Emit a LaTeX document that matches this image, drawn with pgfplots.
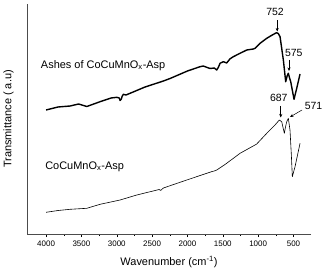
\documentclass[border=0pt]{standalone}
\usepackage{pgfplots}
\pgfplotsset{compat=1.18}
\usepackage{fontspec}
\setmainfont{Liberation Sans}
\usetikzlibrary{arrows.meta}
\begin{document}
\begin{tikzpicture}
\begin{axis}[
  scale only axis, width=284bp, height=230bp,
  x dir=reverse, xmin=252, xmax=4270, ymin=-234, ymax=-4,
  axis x line*=bottom, axis y line*=left,
  ytick=\empty,
  xtick={500,1000,1500,2000,2500,3000,3500,4000},
  minor x tick num=1,
  tick align=outside,
  major tick length=3bp, minor tick length=2bp,
  tick style={black, line width=0.5pt},
  axis line style={black!70, line width=0.6pt},
  /pgf/number format/assume math mode=true,
  /pgf/number format/1000 sep={},
  tick label style={font=\fontsize{8}{9}\selectfont},
  xlabel={Wavenumber (cm\textsuperscript{-1})},
  ylabel={Transmittance ( a.u)},
  label style={font=\fontsize{11}{12}\selectfont},
  ylabel style={at={(axis description cs:-0.065,0.5)}, anchor=center},
  xlabel style={at={(axis description cs:0.5,-0.12)}, anchor=center},
  clip=false,
]
\addplot[black, line width=1.4pt, line join=round] coordinates {
(4000,-110) (3830,-107) (3660,-106) (3540,-104) (3424,-106.5) (3236,-101.7)
(3080,-98) (3000,-97.3) (2965,-98) (2953,-100.5) (2935,-99) (2925,-96.5)
(2907,-94.3) (2870,-95) (2812,-93.3) (2600,-87) (2340,-81) (2246,-78.5)
(2000,-71) (1822,-66.7) (1775,-66) (1720,-67.5) (1680,-68.5) (1620,-68)
(1586,-70) (1560,-67) (1539,-63.3) (1492,-61.7) (1445,-63) (1400,-59)
(1351,-56.7) (1256,-53.3) (1161,-50) (1068,-49) (1044,-48.3) (973,-43.3)
(878,-38.3) (800,-35) (740,-32.7) (715,-33.5) (690,-36.7) (643,-60)
(610,-81.7) (590,-76) (573,-73.3) (555,-78) (539,-81.7) (492,-99.3)
(454,-88.3) (407,-74)
};
\addplot[black, line width=0.6pt, line join=round] coordinates {
(4000,-212.3) (3830,-210.5) (3660,-209.3) (3424,-208.3) (3236,-204.3)
(2953,-200) (2717,-195) (2400,-189.5) (2380,-190.5) (2340,-188) (2010,-180)
(1727,-173.3) (1650,-171.5) (1620,-171) (1586,-170) (1500,-166) (1445,-163.3)
(1256,-153.3) (1044,-145) (1020,-144) (878,-133.3) (832,-130) (761,-125)
(700,-120) (666,-121.7) (640,-130) (629,-133.3) (610,-126) (595,-121.7)
(573,-118.3) (549,-130) (530,-155) (516,-176.7) (478,-166.7) (407,-143.3)
};
\node[anchor=base west, font=\fontsize{11}{12}\selectfont, inner sep=0pt] at (axis cs:4075,-68) {Ashes of CoCuMnO\textsubscript{x}-Asp};
\node[anchor=base west, font=\fontsize{11}{12}\selectfont, inner sep=0pt] at (axis cs:4014,-169.3) {CoCuMnO\textsubscript{x}-Asp};
\node[anchor=base, font=\fontsize{10.5}{12}\selectfont, inner sep=0pt] at (axis cs:761,-15) {752};
\node[anchor=base, font=\fontsize{10.5}{12}\selectfont, inner sep=0pt] at (axis cs:495,-56) {575};
\node[anchor=base, font=\fontsize{10.5}{12}\selectfont, inner sep=0pt] at (axis cs:707,-101.7) {687};
\node[anchor=base, font=\fontsize{10.5}{12}\selectfont, inner sep=0pt] at (axis cs:216,-109) {571};
\draw[-{Stealth[length=3.5bp,width=3bp]}, line width=0.5pt] (axis cs:730,-20.5) -- (axis cs:730,-31.5);
\draw[-{Stealth[length=3.5bp,width=3bp]}, line width=0.5pt] (axis cs:563,-60) -- (axis cs:563,-71);
\draw[-{Stealth[length=3.5bp,width=3bp]}, line width=0.5pt] (axis cs:680,-106) -- (axis cs:680,-117.5);
\draw[-{Stealth[length=3.5bp,width=3bp]}, line width=0.5pt] (axis cs:379,-110) -- (axis cs:549,-117);
\end{axis}
\pgfresetboundingbox
\path[use as bounding box] ([xshift=-27bp,yshift=-37bp]current axis.south west) rectangle ([xshift=295bp,yshift=234bp]current axis.south west);
\end{tikzpicture}
\end{document}
